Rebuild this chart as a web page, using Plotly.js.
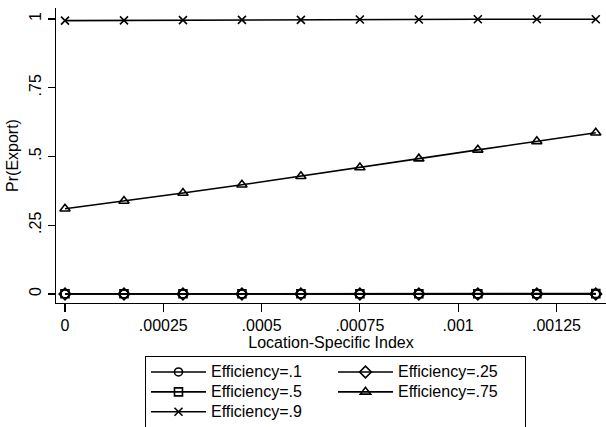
<!DOCTYPE html>
<html>
<head>
<meta charset="utf-8">
<script src="https://cdn.plot.ly/plotly-3.0.1.min.js"></script>
<style>html,body{margin:0;padding:0;background:#fff;}#chart{width:606px;height:427px;}</style>
</head>
<body>
<div id="chart"></div>
<script>
const locIndex = [0, 0.00015, 0.0003, 0.00045, 0.0006, 0.00075, 0.0009, 0.00105, 0.0012, 0.00135];
const eff10 = [0, 0, 0, 0, 0, 0, 0, 0, 0, 0];
const eff25 = [0, 0, 0, 0, 0, 0, 0, 0, 0, 0];
const eff50 = [0.0005, 0.0005, 0.0006, 0.0006, 0.0007, 0.0007, 0.0008, 0.0009, 0.0009, 0.001];
const eff75 = [0.31, 0.338, 0.367, 0.397, 0.428, 0.46, 0.492, 0.524, 0.555, 0.586];
const eff90 = [0.994, 0.995, 0.996, 0.997, 0.997, 0.998, 0.998, 0.999, 0.999, 0.999];
const seriesNames = ["Efficiency=.1", "Efficiency=.25", "Efficiency=.5", "Efficiency=.75", "Efficiency=.9"];
const xTickVals = [0, 0.00025, 0.0005, 0.00075, 0.001, 0.00125];
const xTickText = ["0", ".00025", ".0005", ".00075", ".001", ".00125"];
const yTickVals = [0, 0.25, 0.5, 0.75, 1];
const yTickText = ["0", ".25", ".5", ".75", "1"];

const symbols = ["circle-open", "diamond-open", "square-open", "triangle-up-open", "x-thin-open"];
const sizes = [8, 9, 8, 9, 8];
const ys = [eff10, eff25, eff50, eff75, eff90];

const traces = ys.map((y, i) => ({
  x: locIndex, y: y, name: '<span style="font-size:16px">' + seriesNames[i] + '</span>',
  type: "scatter", mode: "lines+markers",
  line: {color: "#000", width: 1.6},
  marker: {symbol: symbols[i], size: sizes[i], color: "#000", line: {color: "#000", width: 1.6}}
}));

const font = {family: "Liberation Sans, Arial, sans-serif", size: 16, color: "#000"};
const legendFont = {family: "Liberation Sans, Arial, sans-serif", size: 13, color: "#000"};
const layout = {
  width: 606, height: 427,
  margin: {l: 56, r: 0, t: 8, b: 124, autoexpand: false},
  paper_bgcolor: "#fff", plot_bgcolor: "#fff",
  font: font,
  showlegend: true,
  xaxis: {
    range: [-0.0000229, 0.001376], showgrid: false, zeroline: false,
    showline: true, linecolor: "#000", linewidth: 1.2,
    ticks: "outside", ticklen: 8, tickcolor: "#000", tickwidth: 1.2,
    tickvals: xTickVals, ticktext: xTickText, tickfont: font,
    title: {text: "Location-Specific Index", font: font, standoff: 0}
  },
  yaxis: {
    range: [-0.033, 1.04], showgrid: false, zeroline: false,
    showline: true, linecolor: "#000", linewidth: 1.2,
    ticks: "outside", ticklen: 7, tickcolor: "#000", tickwidth: 1.2,
    tickvals: yTickVals, ticktext: yTickText, tickangle: -90, tickfont: font,
    title: {text: "Pr(Export)", font: font, standoff: 4}
  },
  legend: {
    orientation: "h", x: 0.1618, xanchor: "left", y: -0.1797, yanchor: "top",
    bordercolor: "#000", borderwidth: 1, bgcolor: "#fff",
    font: legendFont, itemwidth: 55, entrywidthmode: "fraction", entrywidth: 0.34,
    traceorder: "normal", itemclick: false
  }
};

Plotly.newPlot("chart", traces, layout, {staticPlot: true});
</script>
</body>
</html>
